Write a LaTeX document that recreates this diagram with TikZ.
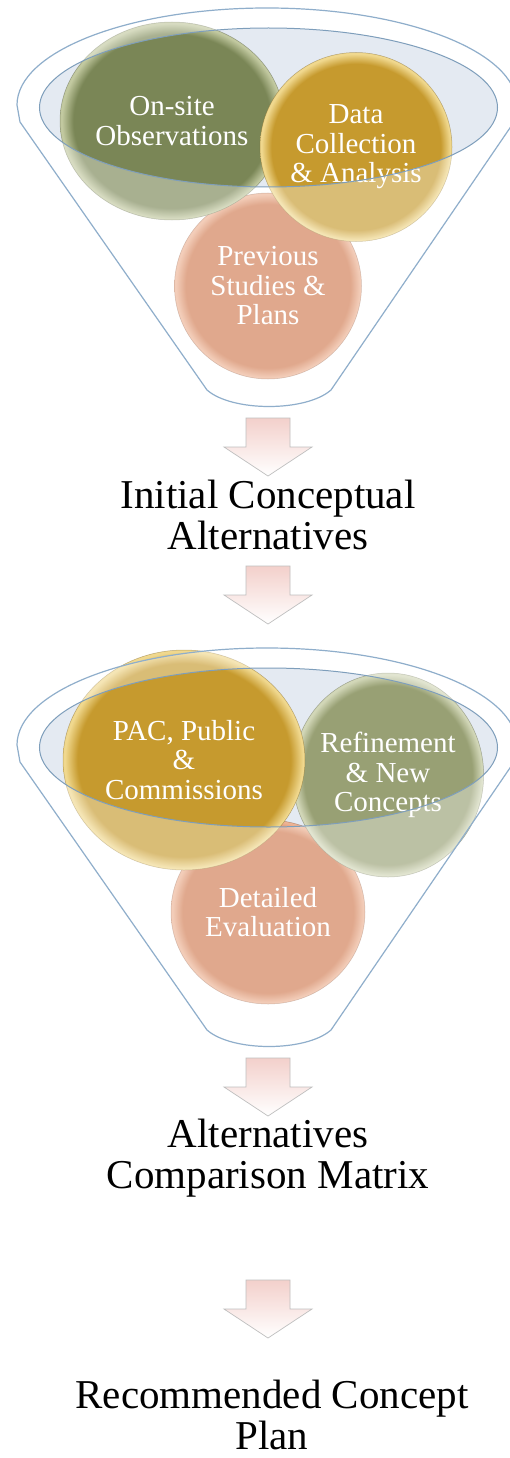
\documentclass[tikz,border=0pt]{standalone}
\usepackage{fontspec}
\setmainfont{Liberation Serif}
\usepackage{tikz}
\usetikzlibrary{shapes.geometric,positioning}
\definecolor{fnlblue}{HTML}{8FAECB}
\definecolor{fnlrim}{HTML}{7E9EBB}
\definecolor{fnlback}{HTML}{E4EAF2}
\definecolor{ballolive}{HTML}{7A8656}
\definecolor{ballolivelt}{HTML}{C2C9A0}
\definecolor{ballsage}{HTML}{98A074}
\definecolor{ballsagelt}{HTML}{D2D7B8}
\definecolor{ballgold}{HTML}{C69A2E}
\definecolor{ballgoldlt}{HTML}{F0D88E}
\definecolor{ballpeach}{HTML}{D07A50}
\definecolor{ballpeachlt}{HTML}{EDB394}
\definecolor{arrpink}{HTML}{F3D0CB}
\pgfdeclareradialshading{olivesh}{\pgfpoint{0bp}{0bp}}{color(0bp)=(ballolive); color(22bp)=(ballolive); color(24.6bp)=(ballolivelt); color(50bp)=(ballolivelt)}
\pgfdeclareradialshading{sagesh}{\pgfpoint{0bp}{0bp}}{color(0bp)=(ballsage); color(22bp)=(ballsage); color(24.6bp)=(ballsagelt); color(50bp)=(ballsagelt)}
\pgfdeclareradialshading{goldsh}{\pgfpoint{0bp}{0bp}}{color(0bp)=(ballgold); color(22bp)=(ballgold); color(24.6bp)=(ballgoldlt); color(50bp)=(ballgoldlt)}
\pgfdeclareradialshading{peachsh}{\pgfpoint{0bp}{0bp}}{color(0bp)=(ballpeach); color(22bp)=(ballpeach); color(24.6bp)=(ballpeachlt); color(50bp)=(ballpeachlt)}
% funnel outline and its opening
\newcommand{\funnelbody}{(17,105) arc[start angle=180,end angle=0,x radius=250pt,y radius=97pt] -- (514,122) -- (331,390) .. controls (306,412) and (232,412) .. (207,390) -- (20,122) -- cycle}
\newcommand{\funnelhole}{(268.5,107.5) ellipse[x radius=229pt,y radius=79.5pt]}

\begin{document}
\begin{tikzpicture}[x=1pt,y=-1pt,
  ball/.style={ellipse,inner sep=0pt,align=center,text=white,draw opacity=0.45,line width=0.5pt,font=\fontsize{29pt}{29.5pt}\selectfont},
  olive/.style={ball,shading=olivesh,draw=ballolive!60!black},
  sage/.style={ball,shading=sagesh,draw=ballsage!60!black},
  gold/.style={ball,shading=goldsh,draw=ballgold!60!black},
  peach/.style={ball,shading=peachsh,draw=ballpeach!60!black},
  lbl/.style={align=center,inner sep=0pt,font=\fontsize{41pt}{41pt}\selectfont},
  blockarr/.style={draw=black!25,line width=0.7pt,top color=arrpink,bottom color=white},
  front/.style={fill=white,fill opacity=0.35,even odd rule},
  rim/.style={draw=fnlblue,line width=1.2pt}]
  \useasboundingbox (0,0) rectangle (510,1458);
  \fill[white] (0,0) rectangle (510,1458);
  % first funnel
  \fill[fnlback] \funnelhole;
  \node[peach,minimum width=187pt,minimum height=186pt] (prev) at (268,286) {Previous\\Studies \&\\Plans};
  \node[olive,minimum width=224pt,minimum height=198pt] (obs) at (172,121) {On-site\\Observations};
  \node[gold,minimum width=192pt,minimum height=189pt] (data) at (356,147) {Data\\Collection\\\& Analysis};
  \fill[front] \funnelbody \funnelhole;
  \draw[rim] \funnelbody;
  \draw[draw=fnlrim,line width=1pt] \funnelhole;
  % second funnel
  \begin{scope}[shift={(0,640)}]
    \fill[fnlback] \funnelhole;
  \end{scope}
  \node[peach,minimum width=194pt,minimum height=184pt] (eval) at (268,912) {Detailed\\Evaluation};
  \node[sage,minimum width=190pt,minimum height=204pt] (refine) at (388,775) {Refinement\\\& New\\Concepts};
  \node[gold,minimum width=242pt,minimum height=220pt] (pac) at (184,760) {PAC, Public\\\&\\Commissions};
  \begin{scope}[shift={(0,640)}]
    \fill[front] \funnelbody \funnelhole;
    \draw[rim] \funnelbody;
    \draw[draw=fnlrim,line width=1pt] \funnelhole;
  \end{scope}
  % block arrows
  \foreach \t in {418,566,1058,1280}
    \draw[blockarr] (246,\t) -- (290,\t) -- (290,\t+29) -- (312,\t+29) -- (268,\t+58) -- (224,\t+29) -- (246,\t+29) -- cycle;
  % stage labels
  \node[lbl] (ica) at (268,514.5) {Initial Conceptual\\Alternatives};
  \node[lbl] (acm) at (268,1158.5) {Alternatives\\Comparison Matrix};
  \node[lbl] (rcp) at (272,1414.5) {Recommended Concept\\Plan};
\end{tikzpicture}
\end{document}
